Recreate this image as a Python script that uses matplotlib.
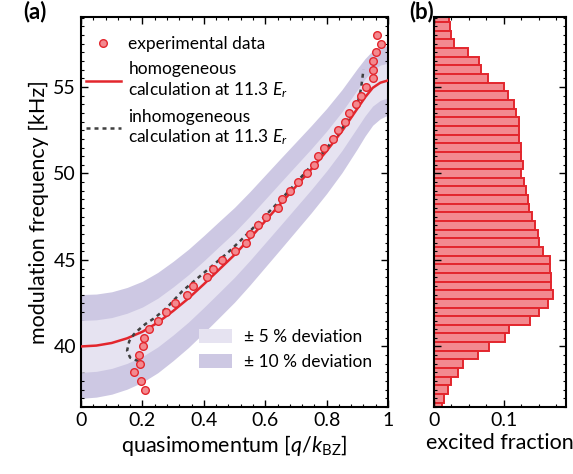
import numpy as np
import matplotlib
matplotlib.use("Agg")
import matplotlib.pyplot as plt
from matplotlib.lines import Line2D
from matplotlib.patches import Patch
from matplotlib.ticker import MultipleLocator

plt.rcParams["font.family"] = ["Lato", "DejaVu Sans"]
plt.rcParams["mathtext.fontset"] = "custom"
plt.rcParams["mathtext.rm"] = "Lato"
plt.rcParams["mathtext.it"] = "Lato:italic"

# experimental data: modulation frequency (kHz) vs quasimomentum
freq_data = np.arange(37.5, 58.01, 0.5)
q_data = [0.208, 0.195, 0.174, 0.192, 0.188, 0.202, 0.206, 0.223, 0.250, 0.276,
          0.306, 0.344, 0.364, 0.409, 0.430, 0.458, 0.500, 0.536, 0.551, 0.578,
          0.603, 0.641, 0.656, 0.681, 0.708, 0.737, 0.760, 0.773, 0.793, 0.822,
          0.838, 0.860, 0.874, 0.896, 0.912, 0.927, 0.950, 0.952, 0.950, 0.960,
          0.977, 0.963]

# homogeneous calculation and the +-5 % / +-10 % deviation bands
q_calc = [0, 0.05, 0.1, 0.15, 0.2, 0.25, 0.3, 0.35, 0.4, 0.45, 0.5, 0.55, 0.6,
          0.65, 0.7, 0.75, 0.8, 0.85, 0.9, 0.925, 0.95, 0.975, 1.0]
f_homog = [40.0, 40.05, 40.2, 40.47, 40.85, 41.38, 42.05, 42.78, 43.6, 44.45, 45.3,
           46.25, 47.25, 48.25, 49.25, 50.25, 51.3, 52.45, 53.75, 54.4, 54.95, 55.25, 55.38]
in_up = [41.5, 41.54, 41.67, 41.92, 42.28, 42.79, 43.44, 44.15, 44.95, 45.78, 46.6,
         47.53, 48.51, 49.49, 50.46, 51.43, 52.45, 53.57, 54.84, 55.47, 56.0, 56.27, 56.38]
in_lo = [38.5, 38.56, 38.73, 39.02, 39.42, 39.97, 40.66, 41.41, 42.25, 43.12, 44.0,
         44.97, 45.99, 47.01, 48.04, 49.07, 50.15, 51.33, 52.66, 53.33, 53.9, 54.23, 54.38]
out_up = [43.0, 43.03, 43.16, 43.41, 43.77, 44.28, 44.92, 45.62, 46.41, 47.23, 48.04,
          48.95, 49.91, 50.87, 51.82, 52.77, 53.76, 54.85, 56.07, 56.64, 57.11, 57.33, 57.38]
out_lo = [37.0, 37.07, 37.24, 37.53, 37.93, 38.48, 39.18, 39.94, 40.79, 41.67, 42.56,
          43.55, 44.59, 45.63, 46.68, 47.73, 48.84, 50.05, 51.43, 52.16, 52.79, 53.17, 53.38]

# inhomogeneous calculation
q_inhom = [0.187, 0.160, 0.150, 0.157, 0.172, 0.190, 0.21, 0.24, 0.28, 0.33,
           0.38, 0.43, 0.48, 0.53, 0.58, 0.63, 0.68, 0.73, 0.78, 0.83, 0.87,
           0.90, 0.912, 0.92]
f_inhom = [39.15, 39.35, 39.75, 40.3, 40.7, 41.0, 41.3, 41.65, 42.25, 43.2,
           43.95, 44.7, 45.45, 46.3, 47.2, 48.1, 49.05, 50.05, 51.05, 52.1, 53.1,
           54.0, 54.9, 56.0]

# histogram of excited fraction, bins of 0.5 kHz
hist_freq = np.arange(59.0, 36.4, -0.5)
hist_frac = [0.022, 0.023, 0.025, 0.029, 0.048, 0.065, 0.067, 0.077, 0.100, 0.106,
             0.114, 0.118, 0.121, 0.121, 0.121, 0.124, 0.124, 0.127, 0.125, 0.129,
             0.132, 0.135, 0.136, 0.140, 0.145, 0.149, 0.151, 0.156, 0.166, 0.166,
             0.168, 0.168, 0.171, 0.163, 0.150, 0.138, 0.107, 0.101, 0.079, 0.063,
             0.042, 0.035, 0.024, 0.020, 0.015, 0.011]

red = "#e3262d"
pink = "#f3898f"
band_in = "#e6e3f1"
band_out = "#cdc8e3"
dash = (0, (1.6, 1.6))

fig = plt.figure(figsize=(5.73, 4.74), dpi=100)
ax = fig.add_axes([0.1414, 0.1414, 0.5358, 0.8228])
axh = fig.add_axes([0.7574, 0.1414, 0.2304, 0.8228], sharey=ax)

ax.fill_between(q_calc, out_lo, out_up, color=band_out, lw=0, zorder=1)
ax.fill_between(q_calc, in_lo, in_up, color=band_in, lw=0, zorder=2)
ax.plot(q_calc, f_homog, color=red, lw=1.8, zorder=3)
ax.plot(q_inhom, f_inhom, color="#404040", lw=1.8, ls=dash, zorder=4)
ax.plot(q_data, freq_data, "o", ms=5.5, mfc=pink, mec=red, mew=1.0, zorder=5)

ax.set_xlim(0, 1)
ax.set_ylim(36.5, 59.05)
ax.set_xticks([0, 0.2, 0.4, 0.6, 0.8, 1.0])
ax.set_xticklabels(["0", "0.2", "0.4", "0.6", "0.8", "1"])
ax.set_yticks([40, 45, 50, 55])
ax.xaxis.set_minor_locator(MultipleLocator(0.04))
ax.yaxis.set_minor_locator(MultipleLocator(0.5))
ax.tick_params(which="both", direction="in", top=True, right=True, labelsize=14)
ax.tick_params(which="major", length=5, width=1)
ax.tick_params(which="minor", length=2.5, width=0.8)
ax.set_xlabel(r"quasimomentum [$q/k_{\mathrm{BZ}}$]", fontsize=15.5, labelpad=3)
ax.set_ylabel("modulation frequency [kHz]", fontsize=15.5, labelpad=3)
for s in ax.spines.values():
    s.set_linewidth(1.5)

h1 = [Line2D([], [], ls="none", marker="o", ms=5.5, mfc=pink, mec=red, mew=1.0),
      Line2D([], [], color=red, lw=1.8),
      Line2D([], [], color="#404040", lw=1.8, ls=dash)]
l1 = ["experimental data", "homogeneous\ncalculation at 11.3 $E_r$",
      "inhomogeneous\ncalculation at 11.3 $E_r$"]
leg1 = ax.legend(h1, l1, loc="upper left", bbox_to_anchor=(-0.035, 0.99),
                 frameon=False, fontsize=12.5, handlelength=2.0,
                 handletextpad=0.45, labelspacing=0.5)
ax.add_artist(leg1)

h2 = [Patch(color=band_in, lw=0), Patch(color=band_out, lw=0)]
l2 = ["\u00b1 5 % deviation", "\u00b1 10 % deviation"]
ax.legend(h2, l2, loc="lower right", bbox_to_anchor=(1.0, 0.055),
          frameon=False, fontsize=12.5, handlelength=1.9, handleheight=0.9,
          handletextpad=0.7, labelspacing=0.5)

axh.barh(hist_freq, hist_frac, height=0.5, color=pink, edgecolor=red, lw=1.4)
axh.set_xlim(0, 0.189)
axh.set_xticks([0, 0.1])
axh.set_xticklabels(["0", "0.1"])
axh.xaxis.set_minor_locator(MultipleLocator(0.025))
axh.tick_params(axis="y", labelleft=False)
axh.tick_params(which="both", direction="in", top=True, right=True, labelsize=14)
axh.tick_params(which="major", length=5, width=1)
axh.tick_params(which="minor", length=2.5, width=0.8)
axh.set_xlabel("excited fraction", fontsize=15.5, labelpad=3)
for s in axh.spines.values():
    s.set_linewidth(1.5)

fig.text(0.04, 0.975, "(a)", fontsize=16, fontweight="bold", va="center")
fig.text(0.715, 0.975, "(b)", fontsize=16, fontweight="bold", va="center")

fig.savefig("out.png", dpi=100)
